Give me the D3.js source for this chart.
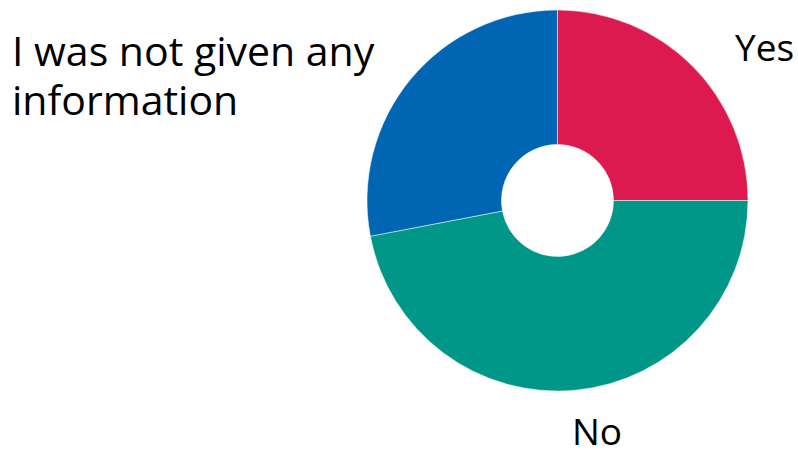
<!DOCTYPE html>
<html>
<head>
<meta charset="utf-8">
<script src="https://cdn.jsdelivr.net/npm/d3@7"></script>
<style>
  html, body { margin: 0; padding: 0; background: #fff; }
  svg { display: block; }
  text { font-family: "Open Sans", "Noto Sans", sans-serif; fill: #000; }
</style>
</head>
<body>
<svg id="chart" width="798" height="455"></svg>
<script>
// Survey answers, percent of respondents
const categories = ["Yes", "No", "I was not given any information"];
const values = [25, 47, 28];
const colors = ["#dc1a50", "#009688", "#0066b3"];

const width = 798, height = 455;
const cx = 557.5, cy = 200.5;
const outerR = 190.5, innerR = 56;

const svg = d3.select("#chart");

const pie = d3.pie().sort(null).value(d => d.value);
const arc = d3.arc().innerRadius(innerR).outerRadius(outerR);

const data = categories.map((c, i) => ({ name: c, value: values[i], color: colors[i] }));
const arcs = pie(data);

const g = svg.append("g").attr("transform", `translate(${cx},${cy})`);

g.selectAll("path")
  .data(arcs)
  .join("path")
  .attr("d", arc)
  .attr("fill", d => d.data.color)
  .attr("stroke", "#fff")
  .attr("stroke-width", 0.5);

// Labels
const labels = svg.append("g");

labels.append("text")
  .style("font-size", "37px")
  .attr("x", 735).attr("y", 61)
  .text(categories[0]);

labels.append("text")
  .style("font-size", "37px")
  .attr("x", 572).attr("y", 445)
  .text(categories[1]);

const info = labels.append("text").style("font-size", "41px");
info.append("tspan").attr("x", 12).attr("y", 66).text("I was not given any");
info.append("tspan").attr("x", 12).attr("y", 115).text("information");
</script>
</body>
</html>
